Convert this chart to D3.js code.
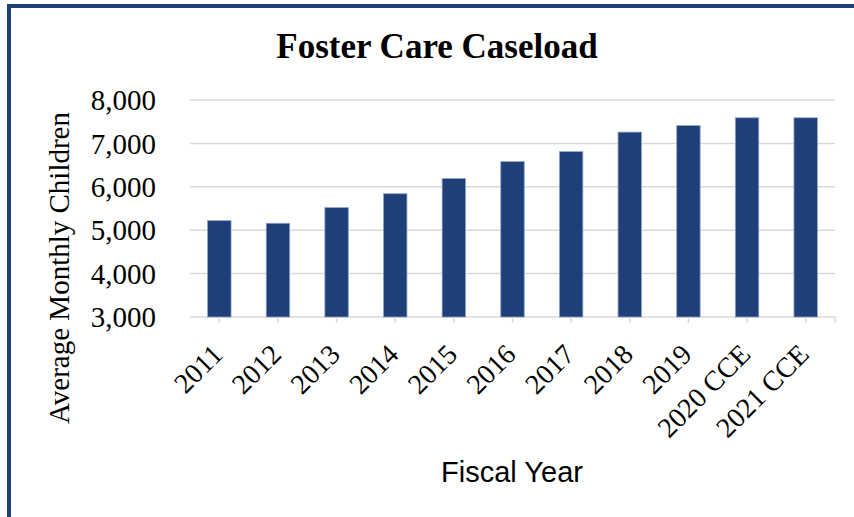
<!DOCTYPE html>
<html>
<head>
<meta charset="utf-8">
<script src="https://cdn.jsdelivr.net/npm/d3@7"></script>
<style>
  html, body { margin: 0; padding: 0; background: #fff; }
  svg { display: block; }
</style>
</head>
<body>
<svg id="chart" width="854" height="517"></svg>
<script>
// chart data
var years = ["2011", "2012", "2013", "2014", "2015", "2016", "2017", "2018", "2019", "2020 CCE", "2021 CCE"];
var caseload = [5220, 5160, 5520, 5840, 6190, 6580, 6810, 7260, 7410, 7590, 7590];
var yTicks = [3000, 4000, 5000, 6000, 7000, 8000];

var svg = d3.select("#chart");
var blue = "#1F3F78";
var serif = "'Liberation Serif', 'Times New Roman', serif";

var plot = {left: 190, right: 835, top: 100, bottom: 317};

var x = d3.scaleBand()
  .domain(years)
  .range([plot.left, plot.right])
  .paddingInner(0.6)
  .paddingOuter(0.3);

var y = d3.scaleLinear()
  .domain([3000, 8000])
  .range([plot.bottom, plot.top]);

// frame (left + top)
svg.append("rect").attr("x", 7).attr("y", 4).attr("width", 847).attr("height", 4).attr("fill", blue);
svg.append("rect").attr("x", 7).attr("y", 4).attr("width", 4).attr("height", 513).attr("fill", blue);

// gridlines
svg.append("g")
  .selectAll("line")
  .data(yTicks)
  .join("line")
  .attr("x1", plot.left).attr("x2", plot.right)
  .attr("y1", function(d) { return y(d); })
  .attr("y2", function(d) { return y(d); })
  .attr("stroke", "#D9D9D9")
  .attr("stroke-width", 1.5);

// y tick labels
svg.append("g")
  .selectAll("text")
  .data(yTicks)
  .join("text")
  .attr("x", 156)
  .attr("y", function(d) { return y(d); })
  .attr("dy", "0.35em")
  .attr("text-anchor", "end")
  .style("font-family", serif)
  .style("font-size", "29px")
  .attr("fill", "#000")
  .text(d3.format(","));

// bars
svg.append("g")
  .selectAll("rect")
  .data(caseload)
  .join("rect")
  .attr("x", function(d, i) { return x(years[i]); })
  .attr("y", function(d) { return y(d); })
  .attr("width", x.bandwidth())
  .attr("height", function(d) { return y(3000) - y(d); })
  .attr("fill", blue)
  .attr("stroke", "#8DA3CB")
  .attr("stroke-width", 0.8);

// x axis ticks (category centers plus axis end)
var tickXs = years.map(function(d) { return x(d) + x.bandwidth() / 2; }).concat([plot.right]);
svg.append("g")
  .selectAll("line")
  .data(tickXs)
  .join("line")
  .attr("x1", function(d) { return d; })
  .attr("x2", function(d) { return d; })
  .attr("y1", plot.bottom)
  .attr("y2", plot.bottom + 6)
  .attr("stroke", "#D9D9D9")
  .attr("stroke-width", 1.5);

// x labels rotated
svg.append("g")
  .selectAll("text")
  .data(years)
  .join("text")
  .attr("transform", function(d) {
    return "translate(" + (x(d) + x.bandwidth() / 2 + 5) + "," + (plot.bottom + 39) + ") rotate(-45)";
  })
  .attr("text-anchor", "end")
  .style("font-family", serif)
  .style("font-size", "28px")
  .attr("fill", "#000")
  .text(function(d) { return d; });

// title
svg.append("text")
  .attr("x", 437)
  .attr("y", 58)
  .attr("text-anchor", "middle")
  .style("font-family", serif)
  .style("font-size", "35px")
  .style("font-weight", "bold")
  .text("Foster Care Caseload");

// y axis title
svg.append("text")
  .attr("transform", "translate(69,268) rotate(-90)")
  .attr("text-anchor", "middle")
  .style("font-family", serif)
  .style("font-size", "29px")
  .text("Average Monthly Children");

// x axis title
svg.append("text")
  .attr("x", 512)
  .attr("y", 482)
  .attr("text-anchor", "middle")
  .style("font-family", "'Liberation Sans', Arial, sans-serif")
  .style("font-size", "29px")
  .text("Fiscal Year");
</script>
</body>
</html>
